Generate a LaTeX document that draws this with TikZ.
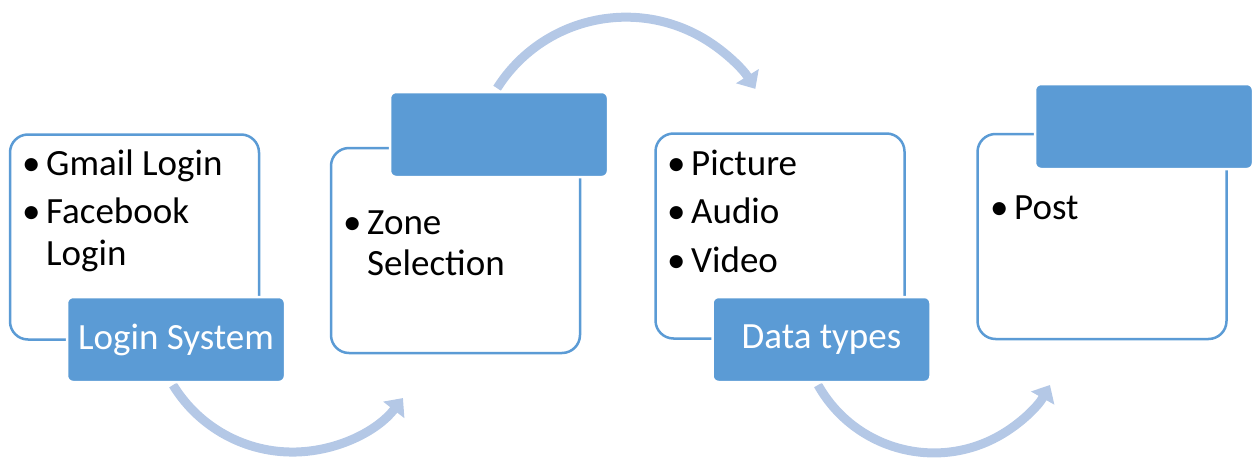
\documentclass[tikz,border=0pt]{standalone}
\usepackage{fontspec}
\setmainfont{Carlito}
\usetikzlibrary{arrows.meta}
\definecolor{accent}{HTML}{5B9BD5}
\definecolor{flow}{HTML}{B4C8E6}
\tikzset{
  panel/.style={draw=accent, line width=2.5pt, fill=white, rounded corners=18pt,
    minimum width=249pt, minimum height=205pt, inner sep=0pt},
  tag/.style={draw=white, line width=2.5pt, fill=accent, rounded corners=6pt,
    minimum width=218pt, minimum height=85pt, inner sep=0pt, text=white,
    font=\fontsize{37}{44}\selectfont},
  item/.style={anchor=base west, inner sep=0pt, font=\fontsize{37}{44}\selectfont},
  flowarrow/.style={draw=flow, line width=9pt,
    -{Triangle[width=26pt,length=15pt]}}
}
\newcommand{\bul}{\makebox[24pt][l]{•}}
\begin{document}
\begin{tikzpicture}[x=1pt,y=1pt]
\useasboundingbox (0,0) rectangle (1253,-460);

% curved flow arrows between the stages
\coordinate (a1s) at (173,-385);
\coordinate (a2s) at (497.1,-88.2);
\coordinate (a3s) at (818,-385);
\draw[flowarrow] (a1s) arc[start angle=211.4, end angle=322.1, radius=140];
\draw[flowarrow] (a2s) arc[start angle=147.7, end angle=32, radius=152.5];
\draw[flowarrow] (a3s) arc[start angle=209.3, end angle=330.7, radius=133];

% stage 1
\node[panel] (p1) at (134.5,-237) {};
\node[tag] (t1) at (176,-339.5) {Login System};
\node[item] (p1a) at (22,-175) {\bul Gmail Login};
\node[item] (p1b) at (22,-223) {\bul Facebook};
\node[item] (p1c) at (46,-265) {Login};

% stage 2
\node[panel] (p2) at (455.5,-250.5) {};
\node[tag] (t2) at (499,-134.5) {};
\node[item] (p2a) at (343,-234) {\bul Zone};
\node[item] (p2b) at (367,-275) {Selection};

% stage 3
\node[panel] (p3) at (780,-236) {};
\node[tag] (t3) at (821.5,-339.5) {Data types};
\node[item] (p3a) at (667,-175) {\bul Picture};
\node[item] (p3b) at (667,-223) {\bul Audio};
\node[item] (p3c) at (667,-272) {\bul Video};

% stage 4
\node[panel] (p4) at (1102,-236.5) {};
\node[tag] (t4) at (1144,-126.5) {};
\node[item] (p4a) at (990,-219) {\bul Post};
\end{tikzpicture}
\end{document}
